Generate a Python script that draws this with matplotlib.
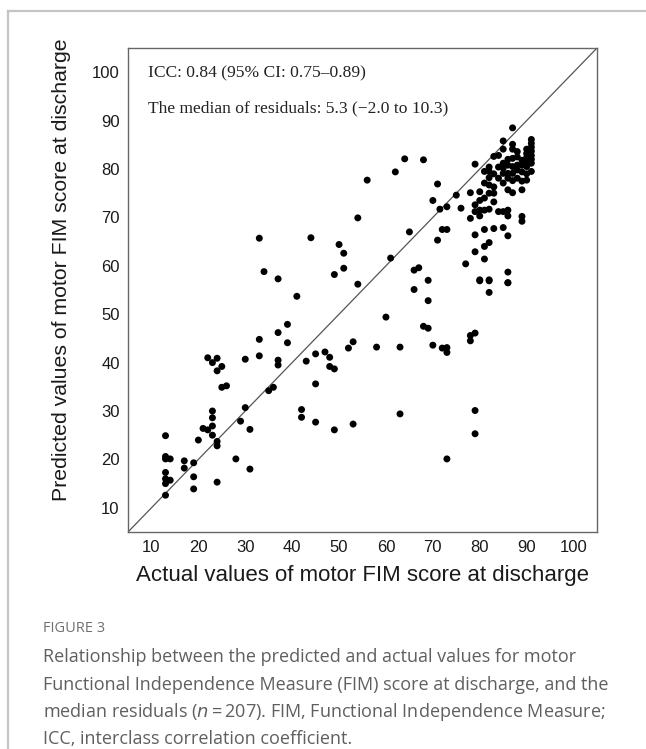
import numpy as np
import matplotlib.pyplot as plt
from matplotlib.lines import Line2D

# actual (x) and predicted (y) motor FIM scores at discharge
actual = [
    13, 13, 13, 14, 13, 13, 14, 13, 13,
    17, 17, 19, 19, 19, 20, 21, 22,
    23, 23, 23, 23, 24, 24, 24, 25, 26,
    28, 29, 30, 31, 31, 35, 36,
    22, 23, 24, 24, 25, 30,
    33, 44, 50, 34, 37, 49, 41, 33, 33, 37, 39, 39, 37, 37, 43, 45,
    47, 48, 48, 49, 45, 42, 42, 45, 49, 53,
    54, 51, 52, 53, 58, 63, 60, 68, 69, 70, 72, 73, 73, 78, 79, 78,
    63, 66, 69, 80, 82, 82, 86, 73, 79, 79,
    56, 54, 51, 62, 64, 66, 67, 61, 65, 71, 70, 72, 71, 73, 69, 68,
    76, 77, 75, 73, 71.5,
    87, 85, 87, 85, 87,
    91, 91, 91, 91, 91, 91, 91,
    90, 90, 90, 90, 90, 90,
    89, 89, 89, 89, 89, 89,
    88, 88, 88, 88,
    87, 87, 87, 87, 87,
    86, 86, 86, 86, 86, 86, 86, 86, 86,
    85, 85, 85, 85, 85, 85,
    84, 84, 84,
    83, 83, 83, 83, 83,
    82, 82, 82, 82, 82, 82, 82,
    81, 81, 81, 81, 81, 81,
    80, 80, 80, 80,
    79, 79, 79, 79, 79,
    78, 78,
    90, 91, 88, 86, 84, 83, 82, 81, 80, 89,
]
predicted = [
    24.9, 20.6, 20.1, 20.1, 17.3, 16.0, 15.7, 15.0, 12.6,
    19.7, 18.2, 19.3, 16.4, 13.9, 24.0, 26.4, 26.1,
    30.0, 28.6, 26.9, 25.0, 23.7, 22.8, 15.3, 34.9, 35.2,
    20.1, 27.9, 30.7, 26.2, 18.0, 34.2, 34.9,
    41.0, 40.0, 40.9, 38.3, 39.2, 40.7,
    65.7, 65.8, 64.4, 58.8, 57.3, 58.2, 53.7, 44.8, 41.4, 46.2, 47.9, 44.1, 40.5, 39.5, 40.3, 41.8,
    42.2, 41.1, 39.2, 38.7, 35.6, 30.3, 28.7, 27.7, 26.1, 27.3,
    56.2, 59.5, 43.0, 44.3, 43.2, 43.2, 49.4, 47.5, 47.1, 43.6, 43.0, 43.1, 42.1, 45.6, 46.1, 44.5,
    29.4, 55.1, 52.8, 56.9, 56.9, 54.5, 56.5, 20.1, 30.1, 25.3,
    77.7, 69.9, 62.6, 79.4, 82.1, 59.1, 59.6, 61.6, 67.0, 76.9, 73.5, 67.5, 65.3, 67.5, 57.0, 81.9,
    71.9, 60.4, 74.6, 72.2, 71.7,
    88.5, 85.8, 85.1, 84.1, 84.1,
    86.1, 85.3, 84.5, 83.7, 82.8, 82.0, 81.2,
    84.1, 83.2, 82.4, 81.6, 80.5, 77.7,
    81.8, 80.8, 79.4, 75.7, 70.2, 69.2,
    83.6, 80.8, 79.8, 78.1,
    82.2, 80.5, 79.1, 77.6, 75.1,
    82.0, 79.1, 78.1, 75.7, 71.5, 70.3, 66.2, 58.7, 56.5,
    81.2, 80.2, 79.1, 77.1, 67.9, 71.2,
    80.4, 78.1, 71.2,
    82.6, 76.3, 75.0, 73.2, 67.7,
    80.4, 79.5, 76.7, 75.0, 71.7, 64.8, 57.1,
    79.5, 77.1, 71.5, 67.5, 64.0, 61.4,
    75.3, 71.5, 70.3, 57.1,
    81.0, 72.6, 71.2, 66.4, 62.9,
    75.1, 69.8,
    79.0, 79.5, 82.5, 80.8, 82.8, 79.0, 78.2, 74.0, 73.5, 77.5,
]

xticks = [10, 20, 30, 40, 50, 60, 70, 80, 90, 100]
yticks = [10, 20, 30, 40, 50, 60, 70, 80, 90, 100]
icc_text = "ICC: 0.84 (95% CI: 0.75\u20130.89)"
resid_text = "The median of residuals: 5.3 (\u22122.0 to 10.3)"

W, H = 646, 749
fig = plt.figure(figsize=(W / 100, H / 100), dpi=100)

# outer panel frame (only the left and top edges fall inside the picture)
fig.add_artist(Line2D([8 / W, 8 / W], [0, 1 - 11 / H], color="#c4c4c4", lw=1.6))
fig.add_artist(Line2D([8 / W, 1], [1 - 11 / H, 1 - 11 / H], color="#c4c4c4", lw=1.6))

ax = fig.add_axes([128 / W, 1 - 532 / H, (597 - 128) / W, (532 - 48) / H])
ax.set_xlim(5, 105)
ax.set_ylim(5, 105)
ax.plot([5, 105], [5, 105], color="#555555", lw=0.9, zorder=1)
ax.scatter(actual, predicted, s=25, color="black", edgecolors="none", zorder=2)

ax.set_xticks(xticks)
ax.set_yticks(yticks)
ax.tick_params(length=0, pad=6, labelsize=12, colors="#1a1a1a")
for lab in ax.get_xticklabels() + ax.get_yticklabels():
    lab.set_fontfamily("Liberation Sans")
for sp in ax.spines.values():
    sp.set_color("#666666")
    sp.set_linewidth(1.0)

ax.text(0.043, 0.948, icc_text, transform=ax.transAxes, ha="left", va="center",
        fontsize=12.6, family="Liberation Serif", color="#222222")
ax.text(0.043, 0.876, resid_text, transform=ax.transAxes, ha="left", va="center",
        fontsize=12.6, family="Liberation Serif", color="#222222")

ax.set_xlabel("Actual values of motor FIM score at discharge", fontsize=16,
              family="Liberation Sans", color="#1a1a1a")
ax.set_ylabel("Predicted values of motor FIM score at discharge", fontsize=15.3,
              family="Liberation Sans", color="#1a1a1a")
ax.xaxis.set_label_coords(0.5, -0.068)
ax.yaxis.set_label_coords(-0.122, 0.541)

# caption
fig.text(43 / W, 1 - 628 / H, "FIGURE 3", fontsize=10.5, family="Open Sans",
         color="#707070", va="center", ha="left")
caption = ["Relationship between the predicted and actual values for motor",
           "Functional Independence Measure (FIM) score at discharge, and the",
           "median residuals ($\\it{n}$\u2009=\u2009207). FIM, Functional Independence Measure;",
           "ICC, interclass correlation coefficient."]
for i, line in enumerate(caption):
    fig.text(43 / W, 1 - (657 + 27.5 * i) / H, line, fontsize=13,
             family=["Open Sans", "DejaVu Sans"], color="#5f5f5f", va="center", ha="left")

fig.savefig("out.png", dpi=100)
